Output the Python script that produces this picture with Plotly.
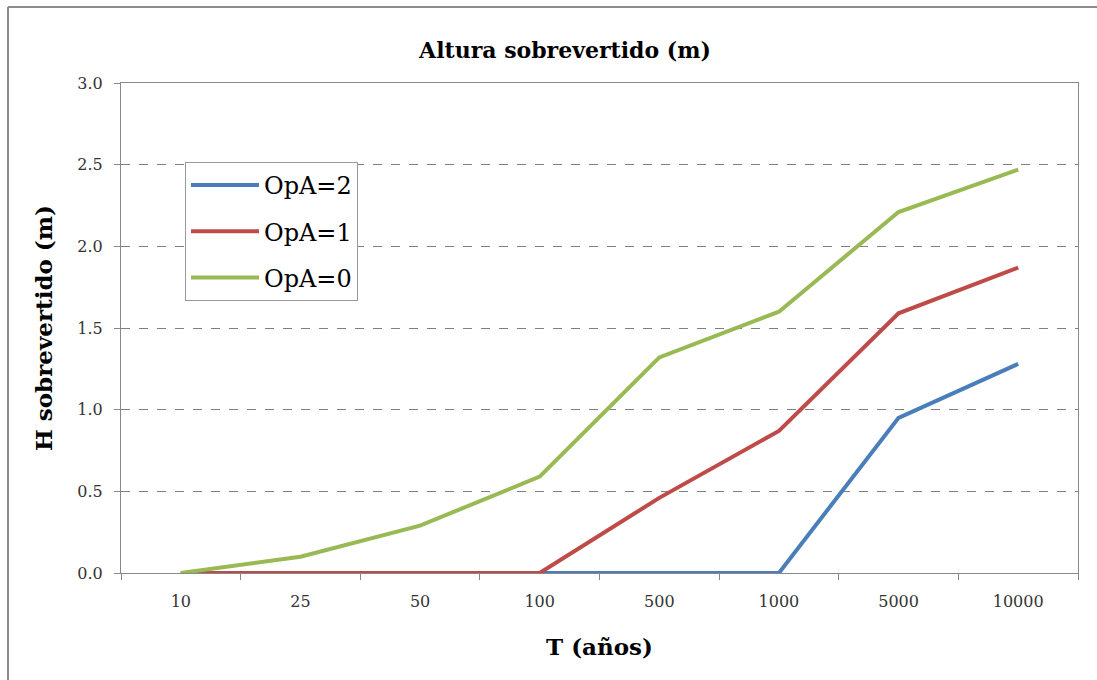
import plotly.graph_objects as go

categories = ["10", "25", "50", "100", "500", "1000", "5000", "10000"]
opa2 = [0, 0, 0, 0, 0, 0, 0.95, 1.28]
opa1 = [0, 0, 0, 0, 0.46, 0.87, 1.59, 1.87]
opa0 = [0, 0.10, 0.29, 0.59, 1.32, 1.60, 2.21, 2.47]
y_ticks = [0, 0.5, 1.0, 1.5, 2.0, 2.5, 3.0]
y_labels = ["0.0", "0.5", "1.0", "1.5", "2.0", "2.5", "3.0"]

FONT = "DejaVu Serif"
W, H = 1097, 680
L, R, T, B = 121, 19, 83, 107
pw, ph = W - L - R, H - T - B

fig = go.Figure()
for name, vals, col in [("OpA=2", opa2, "#4A7EBB"), ("OpA=1", opa1, "#BE4B48"), ("OpA=0", opa0, "#98B954")]:
    fig.add_trace(go.Scatter(x=categories, y=vals, mode="lines", name=name, legendgroup=name,
                             line=dict(color=col, width=4)))

def px_x(p):
    return (p - L) / pw

def px_y(p):
    return (H - B - p) / ph

fig.update_layout(
    width=W, height=H,
    margin=dict(l=L, r=R, t=T, b=B),
    paper_bgcolor="white", plot_bgcolor="white",
    font=dict(family=FONT, color="#404040"),
    title=dict(text="<b>Altura sobrevertido (m)</b>", x=565 / W, xanchor="center", y=1 - 50 / H, yanchor="middle",
               font=dict(family=FONT, size=22, color="#000000")),
    xaxis=dict(type="category", categoryorder="array", categoryarray=categories,
               range=[-0.5, 7.5], tickson="boundaries", ticks="outside", ticklen=6, tickcolor="#888888",
               showline=True, linecolor="#888888", linewidth=1, mirror=True, showgrid=False,
               ticklabelstandoff=14,
               tickfont=dict(family=FONT, size=16, color="#333333"),
               title=dict(text="<b>T (años)</b>", font=dict(family=FONT, size=23, color="#000000"), standoff=28)),
    yaxis=dict(range=[0, 3.0], tickvals=y_ticks, ticktext=y_labels, ticks="outside", ticklen=6, tickcolor="#888888",
               showline=True, linecolor="#888888", linewidth=1, mirror=True,
               showgrid=True, gridcolor="#7f7f7f", griddash="dash", gridwidth=1, zeroline=False,
               ticklabelstandoff=8,
               tickfont=dict(family=FONT, size=16, color="#333333"),
               title=dict(text="<b>H sobrevertido (m)</b>", font=dict(family=FONT, size=23, color="#000000"), standoff=18)),
    legend=dict(x=px_x(185), y=px_y(162), xanchor="left", yanchor="top",
                bordercolor="#999999", borderwidth=1, bgcolor="white",
                font=dict(family=FONT, size=24, color="#000000"), tracegroupgap=12, itemwidth=68),
    showlegend=True,
)
# outer frame: only top and left edges are visible in the reference
fig.add_shape(type="line", xref="paper", yref="paper",
              x0=px_x(8), x1=px_x(1097), y0=px_y(7), y1=px_y(7),
              line=dict(color="#8c8c8c", width=2), layer="below")
fig.add_shape(type="line", xref="paper", yref="paper",
              x0=px_x(8), x1=px_x(8), y0=px_y(7), y1=px_y(680),
              line=dict(color="#8c8c8c", width=2), layer="below")
fig.write_html("out.html", config={"displayModeBar": False},
               post_script="document.body.style.margin='0';")
